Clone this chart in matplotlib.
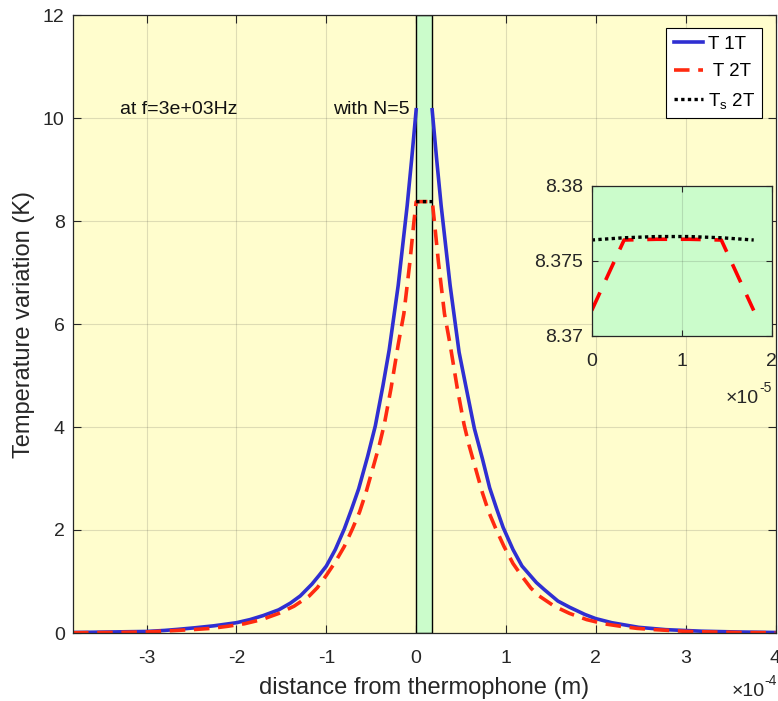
import numpy as np
import matplotlib
matplotlib.use('Agg')
import matplotlib.pyplot as plt
from matplotlib.ticker import MultipleLocator, FuncFormatter, FormatStrFormatter

plt.rcParams['font.family'] = ['Liberation Sans', 'DejaVu Sans']
plt.rcParams['mathtext.fontset'] = 'custom'
plt.rcParams['mathtext.rm'] = 'Liberation Sans'
plt.rcParams['mathtext.it'] = 'Liberation Sans:italic'
plt.rcParams['axes.unicode_minus'] = False

# thermophone thickness (m)
d = 1.8e-5

# distances in units of 1e-4 m
x_1t_left = [-3.82, -3.6, -3.4, -3.2, -3.0, -2.8, -2.66, -2.47, -2.25, -2.0, -1.85,
             -1.7, -1.53, -1.4, -1.29, -1.16, -1.08, -1.0, -0.9, -0.8, -0.72, -0.64,
             -0.54, -0.455, -0.37, -0.3, -0.2, -0.1, -0.05, 0.0]
T_1t_left = [0.01, 0.015, 0.02, 0.025, 0.03, 0.05, 0.07, 0.10, 0.14, 0.20, 0.26,
             0.34, 0.45, 0.58, 0.72, 0.95, 1.12, 1.30, 1.62, 2.02, 2.40, 2.80,
             3.43, 4.02, 4.80, 5.50, 6.75, 8.30, 9.20, 10.16]
x_1t_right = [0.178, 0.228, 0.278, 0.378, 0.478, 0.558, 0.648, 0.738, 0.818, 0.898,
              0.968, 1.078, 1.178, 1.258, 1.338, 1.428, 1.578, 1.708, 1.878, 1.998,
              2.178, 2.278, 2.478, 2.778, 3.178, 3.578, 4.0]
T_1t_right = [10.16, 9.2, 8.3, 6.75, 5.45, 4.75, 3.97, 3.38, 2.82, 2.4,
              2.05, 1.62, 1.3, 1.14, 0.98, 0.84, 0.62, 0.5, 0.36, 0.28,
              0.2, 0.17, 0.11, 0.065, 0.035, 0.02, 0.01]

x_2t_left = [-3.82, -3.4, -3.0, -2.66, -2.45, -2.28, -2.1, -1.91, -1.72, -1.53,
             -1.36, -1.19, -1.1, -1.0, -0.9, -0.8, -0.71, -0.63, -0.56, -0.466,
             -0.41, -0.355, -0.28, -0.2, -0.137, -0.07, -0.027]
T_2t_left = [0.005, 0.01, 0.02, 0.05, 0.07, 0.09, 0.13, 0.18, 0.26, 0.38,
             0.52, 0.72, 0.88, 1.12, 1.38, 1.68, 2.02, 2.35, 2.72, 3.3,
             3.65, 4.05, 4.75, 5.6, 6.2, 7.2, 7.95]
x_2t_right = [0.205, 0.248, 0.315, 0.378, 0.458, 0.533, 0.588, 0.644, 0.738, 0.808,
              0.888, 0.978, 1.078, 1.178, 1.278, 1.368, 1.538, 1.708, 1.898, 2.088,
              2.278, 2.458, 2.658, 3.018, 3.578, 4.0]
T_2t_right = [7.95, 7.2, 6.2, 5.6, 4.75, 4.05, 3.65, 3.3, 2.72, 2.35,
              2.02, 1.68, 1.35, 1.1, 0.87, 0.72, 0.52, 0.38, 0.26, 0.18,
              0.13, 0.09, 0.065, 0.03, 0.01, 0.005]

# inside the thermophone, units of 1e-5 m
x_in = [0.0, 0.36, 0.72, 1.08, 1.44, 1.8]
T_2t_in = [8.3717, 8.3764, 8.37645, 8.37645, 8.3764, 8.3717]
Ts_2t_in = [8.3764, 8.37655, 8.37663, 8.37663, 8.37655, 8.3764]

freq_label = 'at f=3e+03Hz'
layer_label = 'with N=5'

yellow = '#fffdcd'
green = '#cbfccb'
blue = '#2f2fd2'
red = '#ff2a10'
ink = '#262626'

x_1t_left = np.array(x_1t_left) * 1e-4
x_1t_right = np.array(x_1t_right) * 1e-4
x_in_m = np.array(x_in) * 1e-5
x_2t = np.concatenate([np.array(x_2t_left) * 1e-4, x_in_m, np.array(x_2t_right) * 1e-4])
T_2t = np.concatenate([T_2t_left, T_2t_in, T_2t_right])

W, H = 778, 701
fig = plt.figure(figsize=(W / 100, H / 100), dpi=100)


def px(x, y):
    """pixel position (from top-left) -> figure fraction"""
    return x / W, 1 - y / H


def exponent_label(x_right, y_base, exp_text):
    # MATLAB style "x10^-n" under the right end of an axis
    fig.text(*px(x_right, y_base - 11), exp_text, fontsize=10, color=ink,
             ha='right', va='baseline')
    fig.text(*px(x_right - 12.5, y_base), '×10', fontsize=14, color=ink,
             ha='right', va='baseline')


ax = fig.add_axes([73 / W, 1 - 633 / H, (775.5 - 73) / W, (633 - 15) / H])
ax.set_facecolor(yellow)

ax.axvspan(0, d, facecolor=green, edgecolor='black', lw=1.0, zorder=1)

dash = (0, (4.3, 2.4))
ax.plot(x_1t_left, T_1t_left, color=blue, lw=2.6, label='T 1T', zorder=3)
ax.plot(x_1t_right, T_1t_right, color=blue, lw=2.6, zorder=3)
ax.plot(x_2t, T_2t, color=red, lw=2.6, ls=dash, label=' T 2T', zorder=4)
ax.plot(x_in_m, Ts_2t_in, color='black', lw=2.4, ls=(0, (1, 1)),
        label='T$_\\mathrm{s}$ 2T', zorder=5)

ax.set_xlim(-3.82e-4, 4e-4)
ax.set_ylim(0, 12)
ax.xaxis.set_major_locator(MultipleLocator(1e-4))
ax.yaxis.set_major_locator(MultipleLocator(2))
ax.xaxis.set_major_formatter(FuncFormatter(lambda v, p: f'{v * 1e4:g}'))

ax.grid(True, color=ink, alpha=0.15, lw=0.8)
ax.set_axisbelow(True)
ax.tick_params(direction='in', top=True, right=True, length=6, width=0.8,
               colors=ink, labelsize=14)
ax.tick_params(axis='x', pad=12.5)
ax.tick_params(axis='y', pad=6)
for s in ax.spines.values():
    s.set_color(ink)
    s.set_linewidth(0.9)
    s.set_zorder(6)

ax.set_xlabel('distance from thermophone (m)', fontsize=17, color=ink, labelpad=7)
ax.set_ylabel('Temperature variation (K)', fontsize=17, color=ink, labelpad=6)
exponent_label(777, 696, '-4')

ax.text(-3.3e-4, 10.16, freq_label, fontsize=14, color='#111111', va='center', ha='left')
ax.text(-0.07e-4, 10.16, layer_label, fontsize=14, color='#111111', va='center', ha='right')

leg = ax.legend(loc='upper right', fontsize=13.5, fancybox=False, framealpha=1,
                edgecolor='black', handlelength=1.55, handletextpad=0.25,
                borderpad=0.4, labelspacing=0.55, borderaxespad=0.7)
leg.get_frame().set_linewidth(0.8)

# zoomed view inside the thermophone
axi = fig.add_axes([591.7 / W, 1 - 336 / H, 180 / W, 150 / H])
axi.set_facecolor(green)
axi.plot(x_in_m, T_2t_in, color='red', lw=2.6, ls=(0, (5.5, 3.8)))
axi.plot(x_in_m, Ts_2t_in, color='black', lw=2.4, ls=(0, (1, 1)))
axi.set_xlim(0, 2e-5)
axi.set_ylim(8.37, 8.38)
axi.xaxis.set_major_locator(MultipleLocator(1e-5))
axi.xaxis.set_major_formatter(FuncFormatter(lambda v, p: f'{v * 1e5:g}'))
axi.set_yticks([8.37, 8.375, 8.38])
axi.yaxis.set_major_formatter(FormatStrFormatter('%g'))
axi.grid(True, color=ink, alpha=0.15, lw=0.8)
axi.tick_params(direction='in', top=True, right=True, length=4, width=0.8,
                colors=ink, labelsize=14)
axi.tick_params(axis='x', pad=12.5)
axi.tick_params(axis='y', pad=6)
for s in axi.spines.values():
    s.set_color(ink)
    s.set_linewidth(0.9)
exponent_label(771.7, 403, '-5')

fig.savefig('out.png', dpi=100)
